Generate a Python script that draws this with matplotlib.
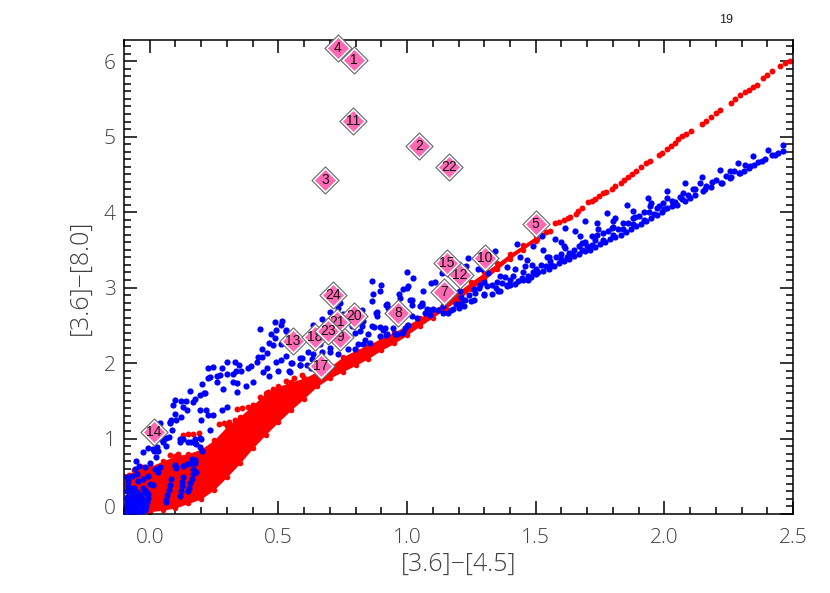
"""Colour-colour diagram: [3.6]-[8.0] vs [3.6]-[4.5], model grids and numbered sources."""
import matplotlib
matplotlib.use("Agg")
import matplotlib.pyplot as plt
from matplotlib.ticker import MultipleLocator
from matplotlib.transforms import ScaledTranslation

# dense red model band: lower/upper edge of the cloud
BAND_X = [-0.10, -0.05, 0.0, 0.05, 0.10, 0.15, 0.20, 0.25, 0.30, 0.35, 0.40, 0.45, 0.50, 0.55,
          0.60, 0.65, 0.70, 0.75, 0.80, 0.85, 0.90, 0.95, 1.00, 1.05, 1.10, 1.15, 1.20, 1.25,
          1.30, 1.35, 1.40, 1.45, 1.50]
BAND_LOW = [0.30, 0.12, 0.03, 0.05, 0.08, 0.14, 0.20, 0.32, 0.49, 0.67, 0.87, 1.05, 1.22, 1.38,
            1.53, 1.69, 1.80, 1.885, 1.97, 2.06, 2.17, 2.26, 2.37, 2.49, 2.60, 2.72, 2.84, 2.98,
            3.10, 3.24, 3.38, 3.50, 3.62]
BAND_HIGH = [0.50, 0.58, 0.63, 0.70, 0.77, 0.80, 0.86, 0.98, 1.16, 1.29, 1.44, 1.60, 1.69, 1.75,
             1.80, 1.885, 1.95, 2.08, 2.17, 2.24, 2.33, 2.41, 2.50, 2.60, 2.70, 2.81, 2.95, 3.08,
             3.20, 3.32, 3.45, 3.56, 3.68]

# red points off the band (sprigs and the thin high-colour branch)
RED_SPRIGS = [(0.13, 1.05), (0.15, 1.06), (0.17, 1.06), (0.19, 1.07), (0.08, 0.78), (0.11, 0.80),
              (0.27, 1.19), (0.29, 1.20), (0.31, 1.22), (0.33, 1.24), (0.34, 1.39), (0.36, 1.40),
              (0.38, 1.42), (0.40, 1.44), (0.43, 1.55), (0.46, 1.62), (0.48, 1.66), (0.53, 1.76),
              (0.56, 1.80), (0.59, 1.84), (-0.08, 0.52), (-0.06, 0.58), (-0.03, 0.62)]
RED_BRANCH = [(1.505, 3.65), (1.525, 3.70), (1.54, 3.73), (1.555, 3.75), (1.575, 3.85), (1.59, 3.87),
              (1.61, 3.90), (1.625, 3.92), (1.635, 3.94), (1.655, 3.98), (1.665, 4.01), (1.68, 4.05),
              (1.705, 4.14), (1.72, 4.15), (1.73, 4.17), (1.745, 4.21), (1.76, 4.25), (1.775, 4.27),
              (1.795, 4.30), (1.81, 4.34), (1.83, 4.38), (1.845, 4.42), (1.86, 4.47), (1.875, 4.50),
              (1.89, 4.54), (1.91, 4.60), (1.93, 4.65), (1.945, 4.68), (1.98, 4.75), (1.99, 4.78),
              (2.01, 4.83), (2.025, 4.88), (2.04, 4.92), (2.055, 4.97), (2.07, 5.01), (2.085, 5.03),
              (2.105, 5.07), (2.145, 5.17), (2.16, 5.21), (2.18, 5.26), (2.20, 5.31), (2.215, 5.35),
              (2.26, 5.45), (2.275, 5.50), (2.295, 5.55), (2.315, 5.59), (2.33, 5.62), (2.345, 5.66),
              (2.36, 5.69), (2.385, 5.77), (2.40, 5.81), (2.42, 5.87), (2.45, 5.93), (2.47, 5.97),
              (2.49, 6.00)]

# blue grid: corner blob and vertical streaks at the lower left
BLUE_CORNER = [(-0.09, 0.03), (-0.09, 0.08), (-0.09, 0.13), (-0.09, 0.18), (-0.09, 0.23), (-0.09, 0.30),
               (-0.07, 0.04), (-0.07, 0.09), (-0.07, 0.14), (-0.07, 0.20), (-0.07, 0.26), (-0.07, 0.33),
               (-0.05, 0.03), (-0.05, 0.07), (-0.05, 0.12), (-0.05, 0.17), (-0.05, 0.23), (-0.05, 0.29),
               (-0.03, 0.04), (-0.03, 0.10), (-0.03, 0.15), (-0.03, 0.20), (-0.03, 0.27), (-0.02, 0.05),
               (-0.015, 0.31), (-0.085, 0.37), (-0.085, 0.44),
               (-0.06, 0.35), (-0.045, 0.44), (-0.026, 0.35), (-0.026, 0.46), (-0.006, 0.505), (0.0, 0.40),
               (0.013, 0.385), (-0.04, 0.24), (-0.052, 0.705), (-0.058, 0.60), (-0.04, 0.64), (-0.026, 0.815),
               (-0.007, 0.88), (0.012, 0.86), (0.032, 0.84), (0.026, 0.75), (0.0, 0.68), (-0.02, 0.62),
               (0.038, 0.62), (0.02, 0.60), (0.032, 0.55), (-0.09, 0.49), (-0.07, 0.50), (-0.05, 0.53)]
BLUE_STREAKS = [(-0.005, 0.26), (-0.008, 0.21), (-0.012, 0.16), (-0.016, 0.11), (-0.02, 0.06),
                (0.084, 0.46), (0.079, 0.39), (0.074, 0.32), (0.069, 0.25), (0.065, 0.19), (0.062, 0.155),
                (0.13, 0.486), (0.127, 0.43), (0.124, 0.37), (0.12, 0.30), (0.117, 0.243),
                (0.17, 0.595), (0.167, 0.53), (0.163, 0.47), (0.158, 0.41), (0.154, 0.35), (0.15, 0.31),
                (0.178, 0.55), (0.098, 0.65), (0.104, 0.615), (0.143, 0.66), (0.163, 0.73), (0.176, 0.68),
                (0.202, 0.84), (0.162, 0.67), (0.175, 0.715), (0.097, 0.63), (0.13, 0.63)]

# blue grid: scattered upper cloud
BLUE_CLOUD = [(0.117, 1.0), (0.13, 1.0), (0.15, 0.95), (0.176, 1.0), (0.195, 1.01), (0.18, 0.93),
              (0.065, 0.9), (0.045, 1.0), (0.052, 1.01), (0.065, 1.01), (0.04, 1.09), (0.084, 1.24),
              (0.104, 1.25), (0.04, 1.20), (0.08, 1.21), (0.085, 1.11), (0.075, 1.02), (0.05, 0.96),
              (0.03, 0.89), (0.015, 0.83), (0.09, 1.44), (0.12, 1.50), (0.10, 1.51), (0.14, 1.50),
              (0.155, 1.63), (0.17, 1.49), (0.175, 1.53), (0.195, 1.58), (0.21, 1.60), (0.215, 1.60),
              (0.205, 1.72), (0.225, 1.93), (0.245, 1.95), (0.28, 1.94), (0.30, 2.01), (0.33, 2.02),
              (0.345, 1.97), (0.225, 1.80), (0.235, 1.82), (0.26, 1.83), (0.275, 1.84), (0.30, 1.85),
              (0.26, 1.75), (0.285, 1.66), (0.325, 1.75), (0.34, 1.73), (0.34, 1.62), (0.375, 1.69),
              (0.40, 1.75), (0.325, 1.85), (0.335, 1.90), (0.355, 1.90), (0.38, 1.93), (0.395, 1.96),
              (0.415, 2.02), (0.42, 2.08), (0.435, 2.18), (0.43, 2.45), (0.485, 2.55), (0.515, 2.56),
              (0.51, 2.50), (0.49, 2.44), (0.47, 2.39), (0.53, 2.44), (0.485, 2.33), (0.465, 2.26),
              (0.48, 2.24), (0.455, 2.13), (0.435, 2.08), (0.49, 2.02), (0.53, 2.09), (0.51, 2.04),
              (0.455, 1.93), (0.44, 1.88), (0.50, 1.90), (0.465, 1.83), (0.545, 1.885), (0.55, 2.0),
              (0.585, 1.97), (0.585, 2.07), (0.63, 2.05), (0.615, 2.14), (0.625, 1.93), (0.655, 2.0),
              (0.12, 1.29), (0.097, 1.33), (0.13, 1.42), (0.143, 1.38), (0.078, 1.22), (0.195, 1.38),
              (0.22, 1.38), (0.2, 1.245), (0.246, 1.31), (0.225, 1.31), (0.28, 1.38), (0.30, 1.42),
              (0.235, 1.11), (0.2, 1.0), (0.175, 0.935), (0.195, 0.89), (0.162, 0.96), (0.117, 0.96),
              (0.863, 3.09), (0.90, 3.04), (0.895, 2.95), (0.869, 2.91), (0.863, 2.82), (0.967, 2.91),
              (0.973, 2.86), (1.0, 2.99), (0.921, 2.78), (0.927, 2.73), (0.885, 2.67), (0.885, 2.62),
              (0.863, 2.49), (0.85, 2.38), (0.83, 2.56), (0.824, 2.49), (0.817, 2.42), (0.785, 2.49),
              (0.797, 2.40), (0.837, 2.31), (0.81, 2.25), (0.772, 2.18), (0.797, 2.18), (0.83, 2.25),
              (0.856, 2.27), (0.895, 2.36), (0.914, 2.47), (0.921, 2.38), (0.947, 2.47), (0.953, 2.38),
              (0.98, 2.40), (0.992, 2.47), (1.005, 2.51), (0.733, 2.73), (0.739, 2.80), (0.752, 2.65),
              (0.70, 2.67), (0.668, 2.58), (0.636, 2.51), (0.642, 2.45), (0.66, 2.25), (0.70, 2.20),
              (0.733, 2.12), (0.70, 2.14), (0.668, 2.14), (0.636, 2.12), (0.61, 1.98), (0.584, 1.98),
              (0.59, 2.07), (0.551, 2.0), (0.53, 2.42), (0.512, 2.25), (0.542, 1.9), (0.92, 2.77),
              (1.01, 2.83), (1.057, 2.77), (1.09, 2.70), (0.824, 2.70), (0.88, 2.66), (0.895, 2.48),
              (0.908, 2.44), (0.87, 2.48), (0.92, 2.37), (0.96, 2.39), (0.986, 2.41)]

# blue grid: plumes rising off the main ridge at the red side
BLUE_PLUMES = [(1.0, 3.20), (1.025, 3.13), (1.005, 3.02), (0.986, 2.98), (1.063, 2.95), (1.092, 3.06),
               (1.109, 3.08), (1.135, 3.19), (1.018, 2.84), (1.018, 2.77), (1.057, 2.79), (1.05, 2.75),
               (1.076, 2.71), (1.10, 2.71), (1.14, 2.75), (1.16, 2.66), (1.2, 2.73), (1.21, 2.88),
               (1.206, 2.95), (1.23, 3.28), (1.238, 3.39), (1.277, 3.24), (1.29, 3.24), (1.342, 3.49),
               (1.316, 3.19), (1.36, 3.15), (1.348, 3.08), (1.31, 3.02), (1.284, 3.04), (1.264, 2.93),
               (1.25, 2.82), (1.225, 2.84), (1.30, 2.91), (1.355, 2.95), (1.387, 3.02), (1.40, 3.04),
               (1.42, 3.24), (1.413, 3.15), (1.445, 3.13), (1.47, 3.15), (1.485, 3.30), (1.50, 3.24),
               (1.465, 3.37), (1.44, 3.41), (1.39, 3.27), (1.426, 3.58), (1.49, 3.55), (1.523, 3.68),
               (1.53, 3.50), (1.543, 3.41), (1.556, 3.35), (1.575, 3.64), (1.60, 3.61), (1.614, 3.52),
               (1.614, 3.79), (1.62, 3.41), (1.653, 3.75), (1.672, 3.68), (1.68, 3.59), (1.69, 3.88),
               (1.737, 3.85), (1.744, 3.77), (1.73, 3.63), (1.776, 3.99), (1.808, 3.92), (1.80, 3.88),
               (1.795, 3.79), (1.854, 4.09), (1.88, 4.01), (1.886, 3.94), (1.938, 4.19), (1.944, 4.08),
               (1.95, 4.12), (2.01, 4.28), (2.01, 4.19), (1.996, 4.12), (2.08, 4.38), (2.074, 4.25),
               (2.067, 4.17), (2.145, 4.47), (2.14, 4.39), (2.113, 4.30), (2.184, 4.40), (2.158, 4.30),
               (2.216, 4.56), (2.223, 4.39), (2.255, 4.54), (2.255, 4.45), (2.288, 4.65), (2.313, 4.63),
               (2.294, 4.52), (2.346, 4.74), (2.333, 4.61), (2.365, 4.67), (2.39, 4.70), (2.404, 4.82),
               (2.43, 4.76), (2.46, 4.89), (2.46, 4.81)]
BLUE_LINKS = [(1.02, 2.62), (1.04, 2.60), (1.07, 2.66), (1.09, 2.64), (1.12, 2.70), (1.14, 2.66),
              (1.17, 2.70), (1.19, 2.78), (1.21, 2.80), (1.24, 2.90), (1.26, 2.98), (1.28, 3.00),
              (1.30, 3.08), (1.33, 3.04), (1.345, 3.00), (1.37, 3.06), (1.38, 3.14), (1.40, 3.10),
              (1.43, 3.09), (1.45, 3.20), (1.46, 3.28), (1.47, 3.10), (1.49, 3.20), (1.51, 3.20),
              (1.52, 3.30), (1.54, 3.28), (1.55, 3.40), (1.58, 3.40), (1.60, 3.45), (1.61, 3.55),
              (1.63, 3.46), (1.65, 3.50), (1.67, 3.55), (1.69, 3.60), (1.70, 3.55), (1.72, 3.68),
              (1.74, 3.70), (1.76, 3.72), (1.78, 3.75), (1.80, 3.80), (1.82, 3.78), (1.84, 3.86),
              (1.86, 3.85), (1.88, 3.92), (1.90, 3.95), (1.92, 4.0), (1.94, 4.0), (1.97, 4.05),
              (1.98, 4.08), (2.03, 4.15), (2.06, 4.20), (2.09, 4.22), (2.12, 4.30), (2.16, 4.35),
              (2.20, 4.42), (2.24, 4.48), (2.27, 4.55), (2.31, 4.55), (2.35, 4.62), (2.38, 4.68),
              (2.42, 4.75), (2.44, 4.78)]
BLUE_RIDGE = [(1.18, 2.72), (1.22, 2.76), (1.26, 2.84), (1.30, 2.90), (1.33, 2.92), (1.36, 2.96), (1.39, 3.03),
              (1.42, 3.05), (1.45, 3.10), (1.48, 3.14), (1.50, 3.18), (1.53, 3.22), (1.55, 3.25),
              (1.57, 3.28), (1.59, 3.32), (1.61, 3.35), (1.63, 3.38), (1.65, 3.42), (1.67, 3.45),
              (1.69, 3.48), (1.71, 3.50), (1.73, 3.54), (1.75, 3.58), (1.77, 3.60), (1.79, 3.64),
              (1.81, 3.67), (1.83, 3.70), (1.85, 3.74), (1.87, 3.78), (1.89, 3.81), (1.91, 3.84),
              (1.93, 3.88), (1.95, 3.92), (1.97, 3.96), (1.99, 4.00), (2.01, 4.05), (2.03, 4.08),
              (2.05, 4.10), (2.08, 4.15), (2.10, 4.19), (2.12, 4.22), (2.15, 4.28), (2.18, 4.33),
              (2.22, 4.39), (2.26, 4.46), (2.29, 4.52), (2.33, 4.59), (1.56, 3.30), (1.60, 3.38),
              (1.64, 3.44), (1.68, 3.50), (1.72, 3.57), (1.76, 3.63), (1.80, 3.70), (1.84, 3.77),
              (1.88, 3.84), (1.92, 3.90), (1.96, 3.97), (2.00, 4.04), (2.04, 4.13)]

# numbered sources
SOURCE_IDS = [1, 2, 3, 4, 5, 7, 8, 9, 10, 11, 12, 13, 14, 15, 17, 18, 20, 21, 22, 23, 24]
SOURCE_X = [0.794, 1.047, 0.681, 0.73, 1.50, 1.144, 0.965, 0.74, 1.303, 0.79, 1.206, 0.556, 0.016,
            1.156, 0.665, 0.642, 0.794, 0.728, 1.163, 0.693, 0.712]
SOURCE_Y = [6.02, 4.88, 4.42, 6.18, 3.84, 2.94, 2.66, 2.34, 3.39, 5.21, 3.17, 2.29, 1.08,
            3.33, 1.96, 2.34, 2.62, 2.55, 4.60, 2.42, 2.90]

TEXT_GREY = "#404040"
AXIS_FONT = ["Open Sans", "DejaVu Sans"]


def scatter_pairs(ax, pairs, color, size, z):
    ax.scatter([p[0] for p in pairs], [p[1] for p in pairs], s=size, c=color, linewidths=0, zorder=z)


def main():
    plt.rcParams["font.family"] = ["Liberation Sans", "DejaVu Sans"]
    fig = plt.figure(figsize=(8.3, 5.93), dpi=100)
    ax = fig.add_axes([124 / 830, 1 - 514 / 593, (793 - 124) / 830, (514 - 40) / 593])

    ax.fill_between(BAND_X, BAND_LOW, BAND_HIGH, color="red", lw=0, zorder=2)
    ax.scatter(BAND_X, BAND_LOW, s=16, c="red", linewidths=0, zorder=2)
    ax.scatter(BAND_X, BAND_HIGH, s=16, c="red", linewidths=0, zorder=2)
    scatter_pairs(ax, RED_SPRIGS, "red", 18, 2)
    scatter_pairs(ax, RED_BRANCH, "red", 18, 2)
    for cloud in (BLUE_CORNER, BLUE_STREAKS, BLUE_CLOUD, BLUE_PLUMES, BLUE_LINKS, BLUE_RIDGE):
        scatter_pairs(ax, cloud, "#0000ff", 20, 3)

    for i, x, y in zip(SOURCE_IDS, SOURCE_X, SOURCE_Y):
        z = 10 + i
        ax.scatter([x], [y], marker="D", s=190, c="white", edgecolors="#666666", linewidths=0.8, zorder=z,
                   clip_on=False)
        ax.scatter([x], [y], marker="D", s=115, c="#ff69b4", linewidths=0, zorder=z, clip_on=False)
        ax.text(x, y, str(i), ha="center", va="center", fontsize=10, color="#111111", zorder=z)

    ax.set_xlim(-0.1, 2.5)
    ax.set_ylim(0, 6.28)
    ax.xaxis.set_major_locator(MultipleLocator(0.5))
    ax.xaxis.set_minor_locator(MultipleLocator(0.1))
    ax.yaxis.set_major_locator(MultipleLocator(1))
    ax.yaxis.set_minor_locator(MultipleLocator(0.1))
    ax.tick_params(which="both", direction="in", top=True, right=True, width=1.1, colors="black")
    ax.tick_params(which="major", length=9.5)
    ax.tick_params(which="minor", length=5)
    ax.tick_params(axis="both", which="major", labelsize=15, labelcolor=TEXT_GREY)
    ax.tick_params(axis="x", which="major", pad=10)
    ax.tick_params(axis="y", which="major", pad=6)
    ax.set_yticks([0, 1, 2, 3, 4, 5, 6])
    ax.set_xticks([0, 0.5, 1.0, 1.5, 2.0, 2.5])
    ax.set_xticklabels(["0.0", "0.5", "1.0", "1.5", "2.0", "2.5"])
    for lab in ax.get_xticklabels() + ax.get_yticklabels():
        lab.set_family(AXIS_FONT)
        lab.set_weight("light")
    # the bottom y label sits a little above its tick
    zero = ax.get_yticklabels()[0]
    zero.set_transform(zero.get_transform() + ScaledTranslation(0, 8 / 100, fig.dpi_scale_trans))
    for side in ax.spines.values():
        side.set_linewidth(1.1)

    ax.set_xlabel("[3.6]\u2212[4.5]", fontsize=18, color=TEXT_GREY, labelpad=3, family=AXIS_FONT, weight="light")
    ax.set_ylabel("[3.6]\u2212[8.0]", fontsize=18, color=TEXT_GREY, labelpad=8, family=AXIS_FONT, weight="light")
    fig.text(726 / 830, 1 - 20 / 593, "19", ha="center", va="center", fontsize=9, color="#222222")

    fig.savefig("out.png", dpi=100)


if __name__ == "__main__":
    main()
